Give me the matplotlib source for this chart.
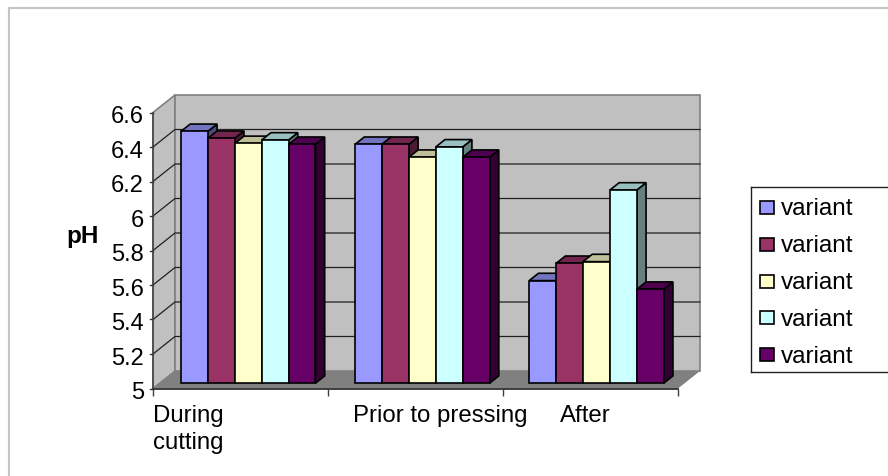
import matplotlib
matplotlib.use('Agg')
import matplotlib.pyplot as plt
from matplotlib.patches import Polygon, Rectangle
from matplotlib.transforms import ScaledTranslation

plt.rcParams['font.family'] = ['Liberation Sans', 'DejaVu Sans']

# values
categories = ['During\ncutting', 'Prior to pressing', 'After']
series_names = ['variant', 'variant', 'variant', 'variant', 'variant']
s1 = [6.46, 6.385, 5.595]
s2 = [6.42, 6.385, 5.695]
s3 = [6.39, 6.31, 5.705]
s4 = [6.41, 6.37, 6.12]
s5 = [6.385, 6.31, 5.545]
all_series = [s1, s2, s3, s4, s5]
y_ticks = [5, 5.2, 5.4, 5.6, 5.8, 6, 6.2, 6.4, 6.6]
y_labels = ['5', '5.2', '5.4', '5.6', '5.8', '6', '6.2', '6.4', '6.6']

front = ['#9999FF', '#993366', '#FFFFCC', '#CCFFFF', '#660066']
top = ['#7373BF', '#73264D', '#BFBF99', '#99BFBF', '#4D004D']
side = ['#4D4D80', '#4D1A33', '#808066', '#668080', '#330033']

W, H = 888, 477
fig = plt.figure(figsize=(W / 100, H / 100), dpi=100)

# frame of the chart area, cut by the image edges
fig.add_artist(plt.Line2D([8.5 / W, 8.5 / W, 1], [0, 1 - 9 / H, 1 - 9 / H],
                          color='#C4C4C4', lw=1.5))

# axes = front plane of the 3D box
ax = fig.add_axes([153 / W, 1 - 389.5 / H, 525 / W, 276 / H])
ax.set_xlim(0, 3)
ax.set_ylim(5, 6.6)
ax.patch.set_visible(False)

depth_x = 22 / 175
depth_y = 17.5 / 172.5


def oblique(x, y, d):
    return (x + depth_x * d, y + depth_y * d)


# floor, side wall, back wall
ax.add_patch(Polygon([oblique(0, 5, 0), oblique(3, 5, 0), oblique(3, 5, 1), oblique(0, 5, 1)],
                     fc='#808080', ec='none', clip_on=False, zorder=1))
ax.add_patch(Polygon([oblique(0, 5, 0), oblique(0, 5, 1), oblique(0, 6.6, 1), oblique(0, 6.6, 0)],
                     fc='#C0C0C0', ec='#808080', lw=1.2, clip_on=False, zorder=1))
ax.add_patch(Polygon([oblique(0, 5, 1), oblique(3, 5, 1), oblique(3, 6.6, 1), oblique(0, 6.6, 1)],
                     fc='#C0C0C0', ec='#808080', lw=1.2, clip_on=False, zorder=1))

# gridlines running along side wall and back wall
for t in y_ticks[1:-1]:
    p0, p1, p2 = oblique(0, t, 0), oblique(0, t, 1), oblique(3, t, 1)
    ax.plot([p0[0], p1[0], p2[0]], [p0[1], p1[1], p2[1]], color='#202020', lw=0.9,
            clip_on=False, zorder=2)

# bars
bar_w = 26.9 / 175
group_off = 0.122
group_step = 0.995
d_front, d_back = 0.3, 0.72
for i, vals in enumerate(all_series):
    for j, v in enumerate(vals):
        x0 = j * group_step + group_off + i * bar_w
        x1 = x0 + bar_w
        z = 3 + i * 0.1
        a = oblique(x0, 5, d_front)
        b = oblique(x1, 5, d_front)
        c = oblique(x1, v, d_front)
        e = oblique(x0, v, d_front)
        f = oblique(x1, 5, d_back)
        g = oblique(x1, v, d_back)
        h = oblique(x0, v, d_back)
        style = dict(ec='black', lw=1.2, clip_on=False, joinstyle='miter', zorder=z)
        ax.add_patch(Polygon([b, f, g, c], fc=side[i], **style))
        ax.add_patch(Polygon([e, c, g, h], fc=top[i], **style))
        ax.add_patch(Polygon([a, b, c, e], fc=front[i], **style))

# axes spines and ticks
for name in ['top', 'right']:
    ax.spines[name].set_visible(False)
ax.spines['left'].set_color('#404040')
ax.spines['bottom'].set_color('#303030')
ax.spines['left'].set_linewidth(1.1)
ax.spines['bottom'].set_linewidth(1.3)
ax.spines['left'].set_zorder(6)
ax.spines['bottom'].set_zorder(6)

ax.set_yticks(y_ticks)
ax.set_yticklabels(y_labels, fontsize=17)
ax.set_xticks([0, 1, 2, 3])
ax.set_xticklabels([])
ax.tick_params(axis='y', length=0, pad=6.5)
ax.tick_params(axis='x', length=5, width=1, color='#404040', direction='out')
nudge = ScaledTranslation(0, -1.5 / 100, fig.dpi_scale_trans)
for lab in ax.get_yticklabels():
    lab.set_transform(lab.get_transform() + nudge)
for t in y_ticks:
    ax.plot([0, -0.02], [t, t], color='#303030', lw=1, clip_on=False, zorder=6)

# category labels start at the left of each slot
cat_x = [0, 1.145, 2.325]
for x, label in zip(cat_x, categories):
    ax.annotate(label, xy=(x, 5), xytext=(0, -11.5), textcoords='offset points',
                fontsize=17.3, ha='left', va='top', linespacing=1.25, annotation_clip=False)

ax.set_ylabel('pH', fontsize=17.5, fontweight='bold', rotation=0, labelpad=0)
ax.yaxis.set_label_coords(-0.135, 0.512)

# legend, drawn by hand; its right edge runs past the image as in the reference
lax = fig.add_axes([750.5 / W, 1 - 372.5 / H, 150 / W, 184.5 / H])
lax.set_xlim(0, 150)
lax.set_ylim(184.5, 0)
lax.set_xticks([])
lax.set_yticks([])
for sp in lax.spines.values():
    sp.set_linewidth(1)
    sp.set_color('#202020')
for i, name in enumerate(series_names):
    y = 20.5 + i * 36.8
    lax.add_patch(Rectangle((9, y - 6.5), 14, 13, fc=front[i], ec='black', lw=1.2))
    lax.text(30, y + 1, name, fontsize=17.5, va='center', ha='left')

fig.savefig('out.png', dpi=100)
